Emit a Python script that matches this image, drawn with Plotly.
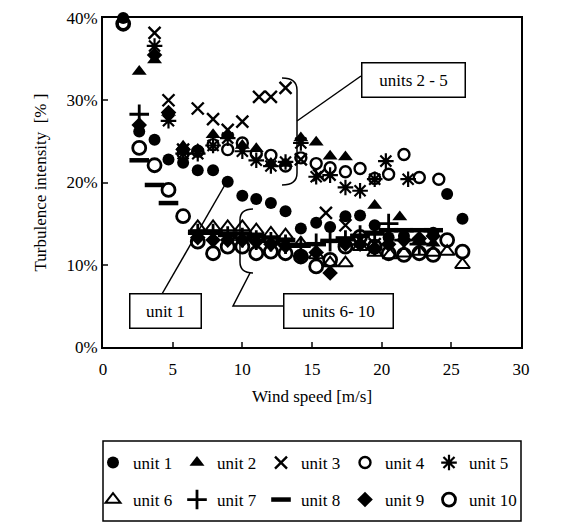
import plotly.graph_objects as go

# ---------------- data ----------------
cols = [1.45, 2.6, 3.7, 4.7, 5.75, 6.8, 7.9, 8.95, 10.0, 11.0, 12.05, 13.1, 14.2,
        15.3, 16.3, 17.4, 18.45, 19.5, 20.5, 21.6, 22.7, 23.7, 24.7, 25.8]

u1_x = cols
u1_y = [40.0, 26.2, 25.2, 22.8, 22.4, 21.5, 21.5, 20.1, 18.4, 18.0, 17.5, 16.5, 14.4,
        15.1, 14.6, 15.9, 16.0, 14.8, 13.3, 13.5, 13.0, 13.9, 18.6, 15.6]

u2_x = [2.6, 3.7, 4.7, 5.75, 6.8, 7.9, 8.95, 10.0, 11.0, 12.05, 13.1, 14.2, 15.3, 16.3,
        17.4, 19.5, 21.3, 22.7, 23.7]
u2_y = [33.5, 34.9, 28.5, 24.4, 24.0, 25.8, 25.8, 24.5, 24.1, 22.3, 22.3, 25.4, 24.9, 23.2,
        23.1, 17.2, 15.8, 13.0, 12.6]

u3_x = [3.7, 4.7, 5.75, 6.8, 7.9, 8.95, 10.0, 11.2, 12.05, 13.1, 14.2, 15.5, 16.0, 17.4,
        18.45, 19.5]
u3_y = [38.2, 30.0, 24.0, 29.0, 27.7, 26.4, 27.4, 30.4, 30.4, 31.5, 22.8, 20.9, 16.3, 14.8,
        13.0, 12.5]

u4_x = [1.45, 5.75, 6.8, 7.9, 8.95, 10.0, 11.0, 12.05, 13.1, 14.2, 15.3, 16.3, 17.4, 18.45,
        19.5, 20.5, 21.6, 22.7, 24.1]
u4_y = [39.3, 23.5, 23.8, 24.6, 24.0, 24.8, 23.5, 23.3, 22.0, 23.0, 22.3, 21.8, 21.3, 21.7,
        20.5, 21.0, 23.4, 20.6, 20.4]

u5_x = [3.7, 4.7, 5.75, 6.8, 7.9, 8.95, 10.0, 11.0, 12.05, 13.1, 14.2, 15.3, 16.3, 17.4,
        18.45, 19.5, 20.3, 21.9]
u5_y = [36.6, 27.5, 23.5, 23.5, 24.5, 25.4, 23.8, 22.7, 22.0, 22.5, 24.8, 20.7, 20.9, 19.4,
        19.0, 20.4, 22.6, 20.4]

u6_x = [6.8, 7.9, 8.95, 10.0, 11.0, 12.05, 13.1, 14.2, 15.3, 16.3, 17.4, 18.45, 19.5, 20.6,
        21.6, 22.7, 23.7, 24.7, 25.8]
u6_y = [14.6, 14.6, 14.6, 14.6, 14.2, 13.8, 13.6, 12.6, 11.2, 10.2, 10.2, 12.2, 11.5, 11.2,
        11.4, 11.6, 11.5, 11.6, 10.0]

u7_x = [2.6, 6.8, 7.9, 8.95, 10.0, 11.0, 12.05, 13.1, 14.2, 15.3, 16.3, 17.4, 18.45, 19.5,
        20.5, 21.6, 22.7]
u7_y = [28.3, 13.8, 13.8, 13.5, 13.3, 13.0, 12.8, 12.5, 12.2, 12.6, 12.8, 13.0, 13.6, 14.0,
        15.0, 13.0, 12.5]

u8_x = [2.6, 3.7, 4.7, 6.8, 7.9, 8.95, 10.0, 11.0, 12.05, 13.1, 14.2, 15.3, 16.3, 17.4,
        18.45, 19.5, 20.5, 21.6, 22.7, 23.7]
u8_y = [22.7, 19.7, 17.5, 14.0, 14.0, 13.8, 13.8, 13.5, 13.3, 13.0, 12.4, 12.5, 12.9, 13.2,
        13.5, 13.8, 14.2, 14.2, 14.2, 14.2]

u9_x = [2.6, 3.7, 4.7, 5.75, 6.8, 7.9, 8.95, 10.0, 11.0, 12.05, 13.1, 14.2, 15.3, 16.3,
        17.4, 18.45, 19.5, 20.5, 21.6, 22.7, 23.7]
u9_y = [27.0, 35.5, 28.5, 24.0, 13.3, 13.0, 13.0, 13.0, 12.8, 12.5, 12.3, 11.0, 11.5, 9.0,
        12.5, 12.5, 12.0, 12.5, 13.0, 13.2, 13.5]

u10_x = cols
u10_y = [39.3, 24.2, 22.1, 19.1, 15.9, 12.8, 11.4, 12.2, 12.2, 11.4, 11.6, 11.4, 11.0,
         9.8, 10.6, 12.2, 13.4, 12.2, 11.4, 11.2, 11.4, 11.2, 13.0, 11.6]

names = ["unit 1", "unit 2", "unit 3", "unit 4", "unit 5",
         "unit 6", "unit 7", "unit 8", "unit 9", "unit 10"]
xs = [u1_x, u2_x, u3_x, u4_x, u5_x, u6_x, u7_x, u8_x, u9_x, u10_x]
ys = [u1_y, u2_y, u3_y, u4_y, u5_y, u6_y, u7_y, u8_y, u9_y, u10_y]

x_ticks = [0, 5, 10, 15, 20, 25, 30]
y_ticks = [0, 10, 20, 30, 40]
y_tick_text = ["0%", "10%", "20%", "30%", "40%"]

# ---------------- styles ----------------
styles = [
    dict(symbol="circle", size=12, color="black", line=dict(width=0)),
    dict(symbol="triangle-up", size=13, color="black", line=dict(width=0)),
    dict(symbol="x-thin-open", size=12, color="black", line=dict(width=2.4, color="black")),
    dict(symbol="circle-open", size=11, color="black", line=dict(width=2.4, color="black")),
    dict(symbol="asterisk-open", size=13, color="black", line=dict(width=2.2, color="black")),
    dict(symbol="triangle-up-open", size=13, color="black", line=dict(width=2, color="black")),
    dict(symbol="cross-thin-open", size=14, color="black", line=dict(width=2.8, color="black")),
    dict(symbol="line-ew-open", size=14, color="black", line=dict(width=4.5, color="black")),
    dict(symbol="diamond", size=12, color="black", line=dict(width=0)),
    dict(symbol="circle-open", size=13, color="black", line=dict(width=2.8, color="black")),
]

FONT = "Liberation Serif"
# the page body adds an 8px offset, so the figure is 8px smaller and shifted
OFF = 8
W, H = 564 - OFF, 525 - OFF
# plot area in reference pixels: x 103..521, y 18..347
PL, PR, PT, PB = 103, 521, 18, 347
L, T = PL - OFF, PT - OFF
R, B = W - (PR - OFF), H - (PB - OFF)
X0, X1, Y0, Y1 = 0, 30, 0, 40
pw, ph = PR - PL, PB - PT


def px2x(px):
    return X0 + (px - PL) / pw * (X1 - X0)


def px2y(py):
    return Y1 - (py - PT) / ph * (Y1 - Y0)


def px2px(px):
    return (px - PL) / pw


def px2py(py):
    return (PB - py) / ph


fig = go.Figure()
for i, (n, x, y, s) in enumerate(zip(names, xs, ys, styles)):
    fig.add_trace(go.Scatter(x=x, y=y, mode="markers", name=n, marker=s,
                             cliponaxis=False,
                             legendwidth=58 if i in (4, 9) else 39,
                             legend="legend" if i < 5 else "legend2"))


def path(points, cmds):
    out = ""
    i = 0
    for c in cmds:
        if c in "ML":
            px, py = points[i]
            out += f"{c} {px2x(px)},{px2y(py)} "
            i += 1
        elif c == "Q":
            (ax, ay), (bx, by) = points[i], points[i + 1]
            out += f"Q {px2x(ax)},{px2y(ay)} {px2x(bx)},{px2y(by)} "
            i += 2
    return out.strip()


line_style = dict(color="black", width=1.5)
shapes = []
# bracket for units 2-5  ("}" shape)
shapes.append(dict(type="path", xref="x", yref="y", line=line_style,
                   path=path([(282, 78), (297, 78), (297, 90), (297, 112), (297, 121),
                              (297, 130), (297, 173), (297, 185), (282, 185)],
                             "MQLQLQ")))
# connector units 2-5
shapes.append(dict(type="line", xref="x", yref="y", line=line_style,
                   x0=px2x(297), y0=px2y(121), x1=px2x(361), y1=px2y(76)))
# bracket for units 6-10 ("{" shape)
shapes.append(dict(type="path", xref="x", yref="y", line=line_style,
                   path=path([(253, 209), (240, 209), (240, 220), (240, 262), (240, 273),
                              (253, 273)], "MQLQ")))
# connector units 6-10
shapes.append(dict(type="path", xref="x", yref="y", line=line_style,
                   path=path([(283, 306), (233, 306), (250, 273)], "MLL")))
# connector unit 1
shapes.append(dict(type="line", xref="x", yref="y", line=line_style,
                   x0=px2x(162), y0=px2y(294), x1=px2x(226), y1=px2y(183)))
# legend frame
shapes.append(dict(type="rect", xref="paper", yref="paper",
                   x0=0, x1=1, y0=px2py(521), y1=px2py(441),
                   line=dict(color="black", width=1.5), fillcolor="rgba(0,0,0,0)"))

ann_font = dict(family=FONT, size=17, color="black")
ann_common = dict(xref="x", yref="y", showarrow=False, font=ann_font,
                  bordercolor="black", borderwidth=1.5, borderpad=0, bgcolor="white")
annotations = [
    dict(x=px2x(413), y=px2y(80), text="units 2 - 5", width=102, height=33, **ann_common),
    dict(x=px2x(165), y=px2y(311), text="unit 1", width=70, height=33, **ann_common),
    dict(x=px2x(338), y=px2y(311), text="units 6- 10", width=108, height=33, **ann_common),
]

legend_common = dict(orientation="h", x=px2px(93), xanchor="left", yanchor="middle",
                     borderwidth=0, bgcolor="rgba(0,0,0,0)",
                     entrywidth=39, entrywidthmode="pixels", itemwidth=30,
                     font=dict(family=FONT, size=17, color="black"), tracegroupgap=0)

fig.update_layout(
    width=W, height=H,
    margin=dict(l=L, r=R, t=T, b=B, autoexpand=False),
    paper_bgcolor="white", plot_bgcolor="white",
    font=dict(family=FONT, size=17, color="black"),
    shapes=shapes, annotations=annotations,
    showlegend=True,
    legend=dict(y=px2py(463), **legend_common),
    legend2=dict(y=px2py(500), **legend_common),
    xaxis=dict(range=[X0, X1], tickvals=x_ticks, ticks="inside", ticklen=5, tickwidth=1.5,
               showline=True, linecolor="black", linewidth=2, mirror=True,
               showgrid=False, zeroline=False, automargin=False, ticklabelstandoff=6,
               title=dict(text="Wind speed [m/s]", font=dict(family=FONT, size=17), standoff=12),
               tickfont=dict(family=FONT, size=17)),
    yaxis=dict(range=[Y0, Y1], tickvals=y_ticks, ticktext=y_tick_text, ticks="inside",
               ticklen=5, tickwidth=1.5,
               showline=True, linecolor="black", linewidth=2, mirror=True,
               showgrid=False, zeroline=False, automargin=False,
               title=dict(text="Turbulence intensity  [% ]", font=dict(family=FONT, size=17),
                          standoff=15),
               tickfont=dict(family=FONT, size=17)),
)

fig.write_html("out.html")
